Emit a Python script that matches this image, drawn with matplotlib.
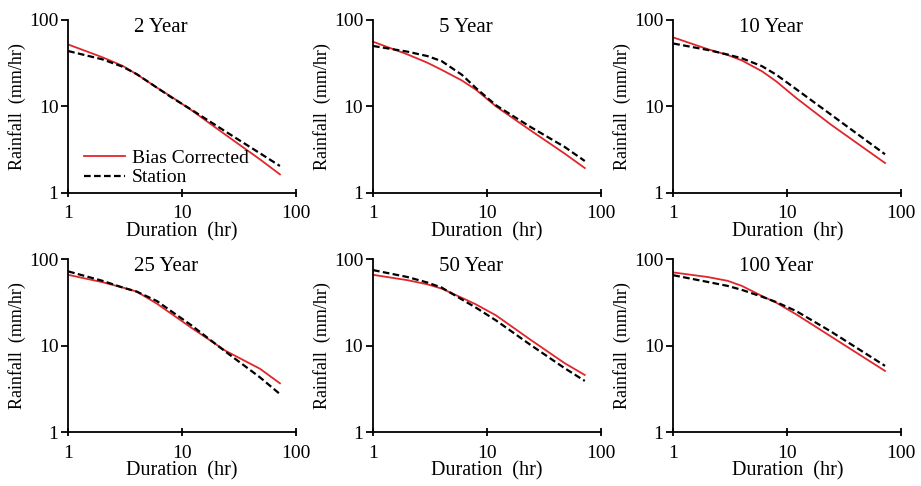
import matplotlib

matplotlib.use("Agg")
import matplotlib.pyplot as plt
from matplotlib.ticker import FixedLocator, NullLocator, FixedFormatter

plt.rcParams["font.family"] = ["Liberation Serif", "DejaVu Serif"]

duration = [1, 2, 3, 4, 6, 8, 12, 24, 48, 72]
titles = ["2 Year", "5 Year", "10 Year", "25 Year", "50 Year", "100 Year"]

bias_corrected = [
    [52, 37, 29.5, 23.5, 16.5, 13.0, 9.1, 4.7, 2.45, 1.64],
    [56, 40, 32, 26.5, 20, 15.6, 10.0, 5.3, 2.85, 1.94],
    [62.8, 46, 39.3, 34, 25.5, 19.5, 12.5, 6.2, 3.24, 2.22],
    [65.7, 54, 46.9, 42, 30.5, 23.4, 16.1, 8.7, 5.4, 3.66],
    [65.7, 57, 51, 45.5, 35.7, 29.9, 22.3, 11.7, 6.25, 4.57],
    [70, 62, 56, 48.9, 37.4, 31.3, 22.9, 12.8, 7.15, 5.09],
]
station = [
    [43.7, 35, 28.8, 23.6, 16.5, 12.8, 9.2, 5.13, 2.88, 2.05],
    [50, 43, 38.2, 33.4, 23.3, 16.3, 10.3, 5.8, 3.4, 2.34],
    [53.4, 45, 39.8, 36, 29.2, 23.3, 15.8, 8.1, 4.14, 2.8],
    [72, 56, 46.9, 42, 32.7, 25, 17.2, 8.5, 4.3, 2.75],
    [74.5, 62, 53.5, 46.8, 34.2, 27.4, 19.5, 10.2, 5.47, 3.9],
    [65, 54.4, 48.9, 44, 36.7, 31.8, 25, 14.6, 8.18, 5.82],
]

fig = plt.figure(figsize=(9.21, 4.86), dpi=100)

lefts = [0.074, 0.405, 0.731]
bottoms = [0.603, 0.111]
w, h = 0.2476, 0.356

for i in range(6):
    r, c = divmod(i, 3)
    ax = fig.add_axes([lefts[c], bottoms[r], w, h])
    ax.plot(duration, bias_corrected[i], color="#e0262b", linewidth=1.3, label="Bias Corrected")
    ax.plot(duration, station[i], color="black", linestyle=(0, (3, 1.5)), linewidth=1.6, label="Station")
    ax.set_xscale("log")
    ax.set_yscale("log")
    ax.set_xlim(1, 100)
    ax.set_ylim(1, 100)
    for axis in (ax.xaxis, ax.yaxis):
        axis.set_major_locator(FixedLocator([1, 10, 100]))
        axis.set_major_formatter(FixedFormatter(["1", "10", "100"]))
        axis.set_minor_locator(NullLocator())
    ax.spines["top"].set_visible(False)
    ax.spines["right"].set_visible(False)
    ax.spines["left"].set_linewidth(1.3)
    ax.spines["bottom"].set_linewidth(1.3)
    ax.tick_params(axis="y", direction="out", length=5, width=1.3, labelsize=14, pad=2)
    ax.tick_params(axis="x", direction="inout", length=6, width=1.3, labelsize=14, pad=6)
    ax.set_xlabel("Duration  (hr)", fontsize=14.5, labelpad=0)
    ax.set_ylabel("Rainfall  (mm/hr)", fontsize=13, labelpad=2)
    ax.text(0.29, 1.01, titles[i], transform=ax.transAxes, ha="left", va="top", fontsize=15)
    if i == 0:
        ax.legend(loc="lower left", bbox_to_anchor=(0.02, -0.03), frameon=False,
                  fontsize=14, handlelength=2.1, handletextpad=0.35,
                  labelspacing=0.1, borderaxespad=0.2)

fig.savefig("out.png", dpi=100)
